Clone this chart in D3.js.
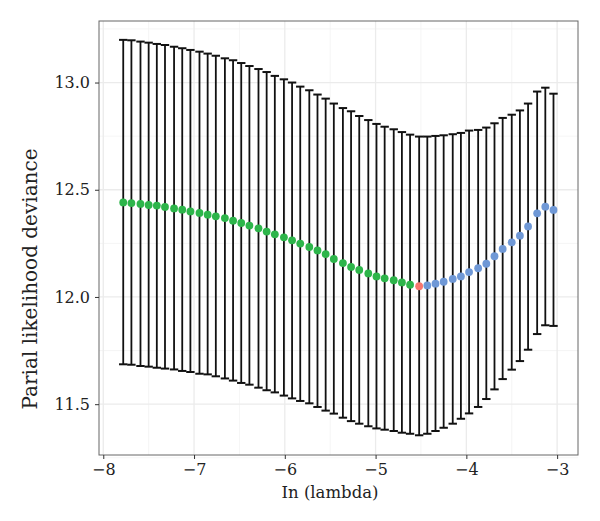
<!DOCTYPE html>
<html>
<head>
<meta charset="utf-8">
<script src="https://cdn.jsdelivr.net/npm/d3@7"></script>
<style>
  body { margin: 0; background: #fff; }
  text { font-family: "DejaVu Serif", serif; fill: #222; }
</style>
</head>
<body>
<svg id="chart" width="600" height="521"></svg>
<script>
// log(lambda) values
const logLambda = [-7.78, -7.69, -7.59, -7.50, -7.41, -7.32, -7.22, -7.13, -7.04, -6.94,
  -6.85, -6.76, -6.66, -6.57, -6.48, -6.39, -6.29, -6.20, -6.11, -6.01,
  -5.92, -5.83, -5.73, -5.64, -5.55, -5.46, -5.36, -5.27, -5.18, -5.08,
  -4.99, -4.90, -4.80, -4.71, -4.62, -4.52, -4.43, -4.34, -4.25, -4.15,
  -4.06, -3.97, -3.87, -3.78, -3.69, -3.60, -3.50, -3.41, -3.32, -3.22,
  -3.13, -3.04];
const deviance = [12.441, 12.438, 12.434, 12.429, 12.426, 12.420, 12.413, 12.407, 12.399, 12.392,
  12.384, 12.376, 12.368, 12.356, 12.345, 12.333, 12.320, 12.305, 12.292, 12.278,
  12.264, 12.249, 12.233, 12.217, 12.200, 12.177, 12.158, 12.140, 12.126, 12.110,
  12.096, 12.087, 12.078, 12.068, 12.057, 12.050, 12.054, 12.062, 12.071, 12.084,
  12.096, 12.116, 12.134, 12.155, 12.190, 12.224, 12.255, 12.286, 12.329, 12.390,
  12.421, 12.406];
const upper = [13.199, 13.197, 13.191, 13.186, 13.180, 13.175, 13.167, 13.160, 13.152, 13.144,
  13.135, 13.125, 13.113, 13.104, 13.091, 13.077, 13.063, 13.049, 13.031, 13.015,
  13.000, 12.981, 12.964, 12.944, 12.925, 12.902, 12.881, 12.866, 12.844, 12.825,
  12.807, 12.794, 12.782, 12.769, 12.757, 12.748, 12.748, 12.751, 12.754, 12.759,
  12.765, 12.776, 12.779, 12.790, 12.810, 12.835, 12.850, 12.870, 12.902, 12.958,
  12.976, 12.948];
const lower = [11.686, 11.684, 11.678, 11.675, 11.670, 11.666, 11.662, 11.655, 11.650, 11.642,
  11.639, 11.630, 11.620, 11.610, 11.599, 11.591, 11.577, 11.565, 11.555, 11.540,
  11.527, 11.515, 11.504, 11.487, 11.470, 11.456, 11.437, 11.421, 11.409, 11.397,
  11.387, 11.381, 11.375, 11.367, 11.362, 11.355, 11.362, 11.375, 11.390, 11.409,
  11.432, 11.457, 11.487, 11.524, 11.569, 11.617, 11.661, 11.701, 11.754, 11.827,
  11.868, 11.865];
// which group each point belongs to: below / at / above the minimum
const group = logLambda.map((_, i) => i < 35 ? 'left' : (i === 35 ? 'min' : 'right'));
const xTicks = [-8, -7, -6, -5, -4, -3];
const yTicks = [11.5, 12.0, 12.5, 13.0];

const colors = {left: '#2db54a', min: '#f8766d', right: '#6f98d6'};

const panel = {left: 99, right: 578, top: 21, bottom: 455};
const svg = d3.select('#chart');

const x = d3.scaleLinear().domain([-8.047, -2.77]).range([panel.left, panel.right]);
const y = d3.scaleLinear().domain([11.263, 13.287]).range([panel.bottom, panel.top]);

// grid
const g = svg.append('g');
g.selectAll('.minor-x')
  .data(d3.range(-7.5, -2.5, 1))
  .enter().append('line')
  .attr('x1', d => x(d)).attr('x2', d => x(d))
  .attr('y1', panel.top).attr('y2', panel.bottom)
  .style('stroke', '#f2f2f2').style('stroke-width', 0.8);
g.selectAll('.minor-y')
  .data([11.25, 11.75, 12.25, 12.75, 13.25])
  .enter().append('line')
  .attr('x1', panel.left).attr('x2', panel.right)
  .attr('y1', d => y(d)).attr('y2', d => y(d))
  .style('stroke', '#f2f2f2').style('stroke-width', 0.8);
g.selectAll('.major-x')
  .data(xTicks)
  .enter().append('line')
  .attr('x1', d => x(d)).attr('x2', d => x(d))
  .attr('y1', panel.top).attr('y2', panel.bottom)
  .style('stroke', '#ebebeb').style('stroke-width', 1.3);
g.selectAll('.major-y')
  .data(yTicks)
  .enter().append('line')
  .attr('x1', panel.left).attr('x2', panel.right)
  .attr('y1', d => y(d)).attr('y2', d => y(d))
  .style('stroke', '#ebebeb').style('stroke-width', 1.3);

// error bars
const capW = 4.2;
const bars = svg.append('g')
  .selectAll('g')
  .data(logLambda.map((l, i) => ({l, up: upper[i], lo: lower[i]})))
  .enter().append('g');
bars.append('line')
  .attr('x1', d => x(d.l)).attr('x2', d => x(d.l))
  .attr('y1', d => y(d.up)).attr('y2', d => y(d.lo))
  .style('stroke', '#111').style('stroke-width', 1.8);
bars.append('line')
  .attr('x1', d => x(d.l) - capW).attr('x2', d => x(d.l) + capW)
  .attr('y1', d => y(d.up)).attr('y2', d => y(d.up))
  .style('stroke', '#111').style('stroke-width', 2);
bars.append('line')
  .attr('x1', d => x(d.l) - capW).attr('x2', d => x(d.l) + capW)
  .attr('y1', d => y(d.lo)).attr('y2', d => y(d.lo))
  .style('stroke', '#111').style('stroke-width', 2);

// points
svg.append('g')
  .selectAll('circle')
  .data(logLambda.map((l, i) => ({l, v: deviance[i], g: group[i]})))
  .enter().append('circle')
  .attr('cx', d => x(d.l))
  .attr('cy', d => y(d.v))
  .attr('r', 3.9)
  .style('fill', d => colors[d.g]);

// panel border
svg.append('rect')
  .attr('x', panel.left).attr('y', panel.top)
  .attr('width', panel.right - panel.left)
  .attr('height', panel.bottom - panel.top)
  .style('fill', 'none')
  .style('stroke', '#666')
  .style('stroke-width', 1);

// axes
const xAxis = svg.append('g')
  .attr('transform', `translate(0,${panel.bottom})`)
  .call(d3.axisBottom(x).tickValues(xTicks).tickSize(4).tickPadding(5)
    .tickFormat(d => d3.format('d')(d).replace('-', '\u2212')));
const yAxis = svg.append('g')
  .attr('transform', `translate(${panel.left},0)`)
  .call(d3.axisLeft(y).tickValues(yTicks).tickSize(4).tickPadding(5)
    .tickFormat(d3.format('.1f')));
[xAxis, yAxis].forEach(a => {
  a.select('.domain').remove();
  a.selectAll('.tick line').style('stroke', '#333').style('stroke-width', 1);
  a.selectAll('text').style('font-family', '"DejaVu Serif", serif')
    .style('font-size', '16px').style('fill', '#222');
});

svg.append('text')
  .attr('x', 330).attr('y', 498)
  .attr('text-anchor', 'middle')
  .style('font-size', '16.5px')
  .text('In (lambda)');
svg.append('text')
  .attr('transform', 'translate(37,279) rotate(-90)')
  .attr('text-anchor', 'middle')
  .style('font-size', '20px')
  .text('Parial likelihood deviance');
</script>
</body>
</html>
